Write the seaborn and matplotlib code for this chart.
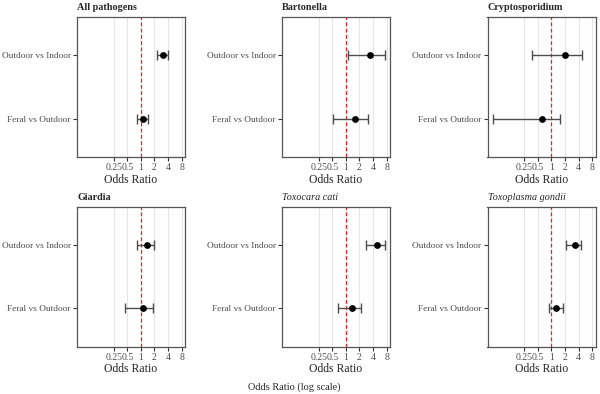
import numpy as np
import pandas as pd
import matplotlib
matplotlib.use("Agg")
import matplotlib.pyplot as plt
import seaborn as sns

# Odds ratios
pathogens = ["All pathogens", "Bartonella", "Cryptosporidium",
             "Giardia", "Toxocara cati", "Toxoplasma gondii"]
comparisons = ["Outdoor vs Indoor", "Feral vs Outdoor"]
odds_ratio = [[3.05, 1.11], [3.5, 1.6], [2.0, 0.63],
              [1.35, 1.14], [4.85, 1.35], [3.3, 1.3]]
ci_low = [[2.25, 0.84], [1.12, 0.53], [0.37, 0.052],
          [0.83, 0.44], [2.8, 0.67], [2.1, 0.89]]
ci_high = [[3.98, 1.45], [7.2, 3.04], [4.8, 1.54],
           [1.99, 1.9], [7.25, 2.19], [4.56, 1.77]]
x_ticks = [0.25, 0.5, 1, 2, 4, 8]
x_tick_labels = ["0.25", "0.5", "1", "2", "4", "8"]

rows = []
for i, p in enumerate(pathogens):
    for j, c in enumerate(comparisons):
        rows.append({"pathogen": p, "comparison": c, "OR": odds_ratio[i][j],
                     "lo": ci_low[i][j], "hi": ci_high[i][j]})
df = pd.DataFrame(rows)
# top row is the first comparison
df["ypos"] = df["comparison"].map({c: len(comparisons) - k for k, c in enumerate(comparisons)})

sns.set_theme(style="white")
plt.rcParams["font.family"] = ["Liberation Serif", "DejaVu Serif"]

italic_titles = {"Toxocara cati", "Toxoplasma gondii"}

W, H = 600, 394
fig = plt.figure(figsize=(6, 3.94), dpi=100)
col_left = [77, 282, 487.5]
row_top = [17, 206.5]
ax_w, ax_h = 108, 140

for i, p in enumerate(pathogens):
    r, c = divmod(i, 3)
    ax = fig.add_axes([col_left[c] / W, 1 - (row_top[r] + ax_h) / H, ax_w / W, ax_h / H])
    sub = df[df["pathogen"] == p]

    ax.grid(axis="x", color="#E6E6E6", lw=0.8)
    ax.set_axisbelow(True)
    ax.axvline(1, color="#E8202A", ls="--", lw=0.9, dashes=(3, 2), zorder=2)
    ax.errorbar(sub["OR"], sub["ypos"],
                xerr=[sub["OR"] - sub["lo"], sub["hi"] - sub["OR"]],
                fmt="none", ecolor="#4D4D4D", elinewidth=1.0, capsize=3.5,
                capthick=1.0, zorder=3)
    sns.scatterplot(data=sub, x="OR", y="ypos", color="black", s=24,
                    linewidth=0, ax=ax, zorder=4)

    ax.set_xscale("log", base=2)
    ax.set_xlim(2 ** -4.7, 2 ** 3.25)
    ax.set_xticks(x_ticks)
    ax.set_xticklabels(x_tick_labels)
    ax.minorticks_off()
    ax.set_ylim(0.4, 2.6)
    ax.set_yticks(df["ypos"].unique())
    ax.set_yticklabels(comparisons)

    ax.set_ylabel("")
    ax.set_xlabel("Odds Ratio", fontsize=8.5, labelpad=1)
    ax.tick_params(length=3, width=0.8, color="#333333", labelsize=7,
                   labelcolor="#4D4D4D", pad=1.5, bottom=True, left=True)
    ax.tick_params(axis="y", labelsize=6.7)
    for s in ax.spines.values():
        s.set_color("#555555")
        s.set_linewidth(0.9)

    if p in italic_titles:
        ax.set_title(p, loc="left", fontsize=7.3, style="italic", pad=5)
    else:
        ax.set_title(p, loc="left", fontsize=7.3, fontweight="bold", pad=5)

fig.text(294 / W, 1 - 387 / H, "Odds Ratio (log scale)", ha="center",
         va="center", fontsize=7.4)

fig.savefig("out.png", dpi=100)
plt.close(fig)
